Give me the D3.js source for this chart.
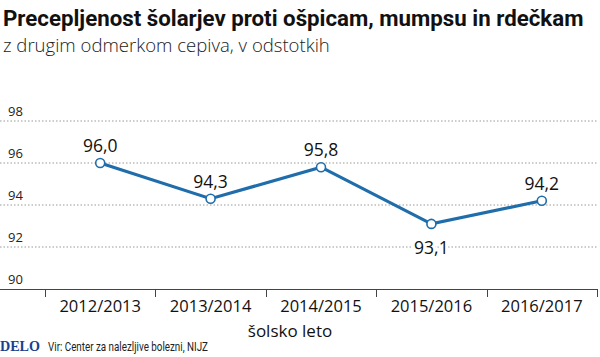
<!DOCTYPE html>
<html><head><meta charset="utf-8">
<script src="https://cdn.jsdelivr.net/npm/d3@7"></script>
<style>body{margin:0;background:#fff}svg{display:block}</style>
</head><body>
<svg id="c" width="600" height="357"></svg>
<script>
const categories = ["2012/2013","2013/2014","2014/2015","2015/2016","2016/2017"];
const values = [96.0, 94.3, 95.8, 93.1, 94.2];
const valueLabels = ["96,0","94,3","95,8","93,1","94,2"];
const yTicks = [90, 92, 94, 96, 98];
const labelBelow = [false,false,false,true,false];

const svg = d3.select("#c");
const blue = "#1f6dab";
const x = d3.scaleBand().domain(categories).range([45, 597]);
const y = d3.scaleLinear().domain([90, 98]).range([289, 121]);

function fit(sel, w){ const n=sel.node(); const l=n.getComputedTextLength(); const fs=parseFloat(sel.attr("font-size")); sel.attr("font-size", fs*w/l); }

// title
const t = svg.append("text").attr("x",3).attr("y",26).attr("font-family","Roboto, sans-serif").attr("font-weight","700").attr("font-size",21).attr("fill","#111").text("Precepljenost šolarjev proti ošpicam, mumpsu in rdečkam");
fit(t, 581);
const st = svg.append("text").attr("x",3).attr("y",52).attr("font-family","Open Sans, sans-serif").attr("font-weight","300").attr("font-size",16).attr("fill","#222").text("z drugim odmerkom cepiva, v odstotkih");
fit(st, 327);

// gridlines
svg.append("g").selectAll("line").data(yTicks.filter(d=>d>90)).join("line")
  .attr("x1",0).attr("x2",597).attr("y1",d=>y(d)).attr("y2",d=>y(d))
  .attr("stroke","#999").attr("stroke-width",1).attr("stroke-dasharray","1.5,2");
svg.append("g").selectAll("text").data(yTicks).join("text")
  .attr("x",8).attr("y",d=>y(d)-5).attr("font-family","Open Sans, sans-serif").attr("font-size",13).attr("fill","#222").text(d=>d);

// x axis
const xa = svg.append("g").attr("transform","translate(0,289)")
  .call(d3.axisBottom(x).tickSize(0).tickPadding(11));
xa.select(".domain").remove();
xa.selectAll("text").attr("font-family","Open Sans, sans-serif").attr("font-size",16.5).attr("fill","#111");
svg.append("line").attr("x1",0).attr("x2",597).attr("y1",289.5).attr("y2",289.5).attr("stroke","#444").attr("stroke-width",1);
const bounds = categories.map(c=>x(c)).concat([x.range()[1]]);
svg.append("g").selectAll("line").data(bounds).join("line")
  .attr("x1",d=>Math.round(d)+0.5).attr("x2",d=>Math.round(d)+0.5).attr("y1",289).attr("y2",297)
  .attr("stroke","#444").attr("stroke-width",1);

// line
const cx = (d,i)=>x(categories[i])+x.bandwidth()/2;
svg.append("path").datum(values).attr("fill","none").attr("stroke",blue).attr("stroke-width",3.2)
  .attr("d", d3.line().x((d,i)=>cx(d,i)).y(d=>y(d)));
svg.append("g").selectAll("circle").data(values).join("circle")
  .attr("cx",cx).attr("cy",d=>y(d)).attr("r",4.5).attr("fill","#fff").attr("stroke",blue).attr("stroke-width",1.6);

// value labels
svg.append("g").selectAll("text").data(values).join("text")
  .attr("x",cx).attr("y",(d,i)=>labelBelow[i]? y(d)+30 : y(d)-11)
  .attr("text-anchor","middle").attr("font-family","Open Sans, sans-serif").attr("font-size",17.5).attr("fill","#111")
  .attr("stroke","#fff").attr("stroke-width",6).attr("paint-order","stroke")
  .text((d,i)=>valueLabels[i]);

// axis title
svg.append("text").attr("x",290).attr("y",337).attr("text-anchor","middle").attr("font-family","Open Sans, sans-serif").attr("font-size",17).attr("fill","#111").text("šolsko leto");

// footer
const dl = svg.append("text").attr("x",0).attr("y",351).attr("font-family","Liberation Serif, serif").attr("font-weight","700").attr("font-size",15).attr("fill","#1b3f8f").text("DELO");
fit(dl, 40);
svg.append("text").attr("x",48).attr("y",351).attr("font-family","Liberation Sans Narrow, Roboto, sans-serif").attr("font-size",13).attr("fill","#222")
  .attr("textLength",160).attr("lengthAdjust","spacingAndGlyphs").text("Vir: Center za nalezljive bolezni, NIJZ");
</script>
</body></html>
